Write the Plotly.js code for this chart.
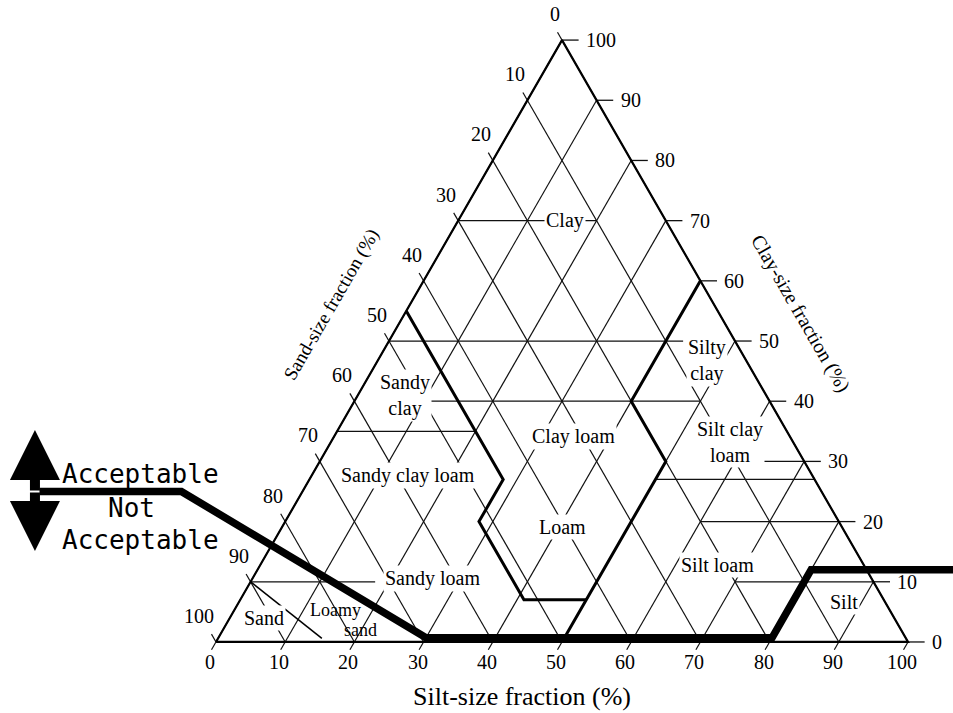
<!DOCTYPE html>
<html><head><meta charset="utf-8">
<script src="https://cdn.plot.ly/plotly-3.0.1.min.js"></script>
<style>html,body{margin:0;padding:0;background:#fff}#chart{width:953px;height:713px}</style>
</head><body><div id="chart"></div>
<script>
// ---- data (all in soil percentages: silt %, clay %) ----
const tickValues = [0, 10, 20, 30, 40, 50, 60, 70, 80, 90, 100];

// thin constant-clay segments: clay level, silt from, silt to
const hClay     = [70, 50,   40, 35, 30, 27, 20, 10, 10];
const hSiltFrom = [0,  0,    10, 0,  62, 50, 60, 0,  70];
const hSiltTo   = [20, 42.5, 50, 20, 70, 73, 80, 18, 90];

// texture-class boundaries
const boundASilt = [0, 28, 28, 41, 50];
const boundAClay = [55, 27, 20, 7, 7];
const boundBSilt = [40, 40, 50, 50];
const boundBClay = [60, 40, 30, 0];
const sandEdgeSilt = [0, 15];
const sandEdgeClay = [10, 0.6];

// acceptability limit line
const limitSilt = [-38, -17.5, 30, 80, 80, 107];
const limitClay = [25, 25, 0.7, 0.7, 12, 12];

// texture class labels
const classNames = ['Clay', 'Sandy<br>clay', 'Clay loam', 'Silty<br>clay', 'Silt clay<br>loam',
  'Sandy clay loam', 'Loam', 'Sandy loam', 'Loamy', 'sand', 'Sand', 'Silt loam', 'Silt'];
const classSilt = [15.4, 6.8, 34.5, 47.6, 57.7, 13.9, 40.45, 26.1, 14.6, 19.9, 4.9, 66.0, 87.4];
const classClay = [70.1, 40.9, 34.2, 46.7, 33.2, 27.6, 19.1, 10.5, 5.3, 2.0, 4.0, 12.8, 6.6];
const classSize = [20, 20, 20, 20, 20, 20, 20, 20, 18, 18, 20, 20, 20];

// ---- geometry ----
const H = Math.sqrt(3) / 2;
const toX = (silt, clay) => silt + clay / 2;
const toY = (clay) => clay * H;
const tickLen = 1.3;
const rightTick = 2.4;

function addSeg(arrX, arrY, s1, c1, s2, c2) {
  arrX.push(toX(s1, c1), toX(s2, c2), null);
  arrY.push(toY(c1), toY(c2), null);
}

const gx = [], gy = [];
tickValues.forEach(t => {
  addSeg(gx, gy, t, -tickLen, t, 100 - t);                 // constant silt
  addSeg(gx, gy, 100 - t, 0, -tickLen, 100 - t + tickLen); // constant sand
});
const rx = [], ry = [];
tickValues.forEach(c => addSeg(rx, ry, 100 - c, c, 100 - c + rightTick, c));
const hx = [], hy = [];
hClay.forEach((c, i) => addSeg(hx, hy, hSiltFrom[i], c, hSiltTo[i], c));

const edgeSilt = [0, 100, 0, 0], edgeClay = [0, 0, 100, 0];

function poly(silts, clays, width, color) {
  return {
    type: 'scatter', mode: 'lines', hoverinfo: 'skip',
    x: silts.map((s, i) => toX(s, clays[i])), y: clays.map(toY),
    line: {color: color || '#000', width: width}
  };
}

const traces = [
  {type: 'scatter', mode: 'lines', x: gx, y: gy, line: {color: '#111', width: 1.2}, hoverinfo: 'skip'},
  {type: 'scatter', mode: 'lines', x: hx, y: hy, line: {color: '#111', width: 1.3}, hoverinfo: 'skip'},
  {type: 'scatter', mode: 'lines', x: rx, y: ry, line: {color: '#111', width: 1.3}, hoverinfo: 'skip'},
  poly(edgeSilt, edgeClay, 2.2),
  poly(boundASilt, boundAClay, 3),
  poly(boundBSilt, boundBClay, 3),
  poly(sandEdgeSilt, sandEdgeClay, 1.5),
  poly(limitSilt, limitClay, 7.5)
];

const serif = 'Liberation Serif, Times New Roman, serif';
const ann = [];
// tick labels
tickValues.forEach(v => {
  ann.push({x: toX(0, 100 - v), y: toY(100 - v), xref: 'x', yref: 'y', text: String(v), showarrow: false,
    xanchor: 'right', yanchor: 'middle', xshift: 0, yshift: 26, font: {family: serif, size: 20, color: '#000'}});
  ann.push({x: toX(100 - v, v), y: toY(v), xref: 'x', yref: 'y', text: String(v), showarrow: false,
    xanchor: 'left', yanchor: 'middle', xshift: 22, yshift: 0, font: {family: serif, size: 20, color: '#000'}});
  ann.push({x: toX(v, 0), y: toY(0), xref: 'x', yref: 'y', text: String(v), showarrow: false,
    xanchor: 'center', yanchor: 'middle', xshift: -6, yshift: -20, font: {family: serif, size: 20, color: '#000'}});
});
// class labels
classNames.forEach((n, i) => {
  const clear = (n === 'Loamy' || n === 'sand');
  ann.push({x: toX(classSilt[i], classClay[i]), y: toY(classClay[i]), xref: 'x', yref: 'y', text: n,
    showarrow: false, xanchor: 'center', yanchor: 'middle', bgcolor: clear ? 'rgba(0,0,0,0)' : '#fff',
    borderpad: clear ? 0 : 1, font: {family: serif, size: classSize[i], color: '#000'}});
});
// axis titles
ann.push({x: 44.2, y: -7.9, xref: 'x', yref: 'y', text: 'Silt-size fraction (%)', showarrow: false,
  font: {family: serif, size: 26, color: '#000'}});
ann.push({x: 16.76, y: 48.6, xref: 'x', yref: 'y', text: 'Sand-size fraction (%)', showarrow: false, textangle: -60,
  font: {family: serif, size: 19, color: '#000'}});
ann.push({x: 84.5, y: 47.3, xref: 'x', yref: 'y', text: 'Clay-size fraction (%)', showarrow: false, textangle: 60,
  font: {family: serif, size: 20, color: '#000'}});
// acceptability legend
const mono = 'DejaVu Sans Mono, Liberation Mono, monospace';
ann.push({x: -10.98, y: 24.17, xref: 'x', yref: 'y', text: 'Acceptable', showarrow: false, font: {family: mono, size: 26, color: '#000'}});
ann.push({x: -12.28, y: 19.28, xref: 'x', yref: 'y', text: 'Not', showarrow: false, font: {family: mono, size: 26, color: '#000'}});
ann.push({x: -10.98, y: 14.68, xref: 'x', yref: 'y', text: 'Acceptable', showarrow: false, font: {family: mono, size: 26, color: '#000'}});
ann.push({x: -26.16, y: 30.5, xref: 'x', yref: 'y', text: '', showarrow: true, ax: 0, ay: 62,
  arrowhead: 2, arrowsize: 1, arrowwidth: 10, arrowcolor: '#000'});
ann.push({x: -26.16, y: 13.09, xref: 'x', yref: 'y', text: '', showarrow: true, ax: 0, ay: -60,
  arrowhead: 2, arrowsize: 1, arrowwidth: 10, arrowcolor: '#000'});

const layout = {
  width: 953, height: 713,
  margin: {l: 0, r: 0, t: 0, b: 0},
  paper_bgcolor: '#fff', plot_bgcolor: '#fff',
  showlegend: false,
  xaxis: {range: [-31.21, 106.5], visible: false, fixedrange: true},
  yaxis: {range: [-10.22, 92.37], visible: false, fixedrange: true},
  annotations: ann
};
Plotly.newPlot('chart', traces, layout, {staticPlot: true, displayModeBar: false});
</script></body></html>
